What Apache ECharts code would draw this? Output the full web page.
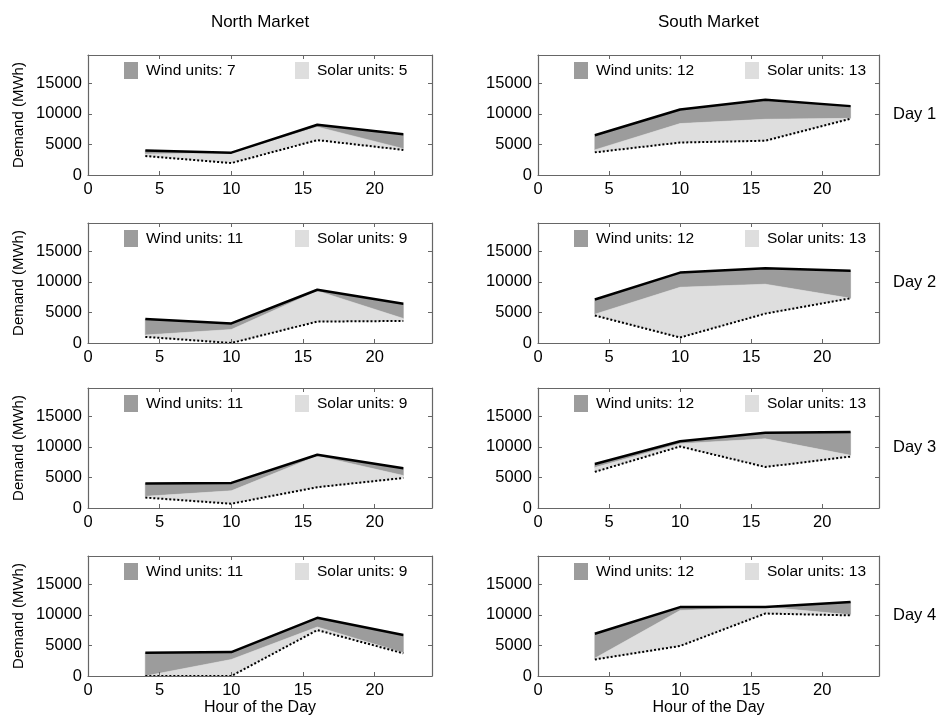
<!DOCTYPE html>
<html>
<head>
<meta charset="utf-8">
<title>Demand and renewable output by market</title>
<script src="https://cdn.jsdelivr.net/npm/echarts@6/dist/echarts.min.js"></script>
<style>
  html, body { margin: 0; padding: 0; background: #fff; }
  #chart { width: 941px; height: 720px; }
</style>
</head>
<body>
<div id="chart"></div>
<script>
// Hours at which demand is sampled
const hours = [4, 10, 16, 22];
const xTicks = [0, 5, 10, 15, 20];
const yTicks = [0, 5000, 10000, 15000];

const marketNames = ['North Market', 'South Market'];
const dayNames = ['Day 1', 'Day 2', 'Day 3', 'Day 4'];

// Installed units per market, one entry per day
const northWindUnits = [7, 11, 11, 11];
const northSolarUnits = [5, 9, 9, 9];
const southWindUnits = [12, 12, 12, 12];
const southSolarUnits = [13, 13, 13, 13];

// Demand (MWh): total, after wind, after wind and solar (net)
const northDay1Total = [4000, 3650, 8200, 6650];
const northDay1AfterWind = [3450, 3550, 7850, 4300];
const northDay1Net = [3100, 1950, 5700, 4100];

const northDay2Total = [3900, 3200, 8700, 6400];
const northDay2AfterWind = [1300, 2200, 8500, 4000];
const northDay2Net = [1000, 0, 3500, 3600];

const northDay3Total = [4000, 4100, 8700, 6500];
const northDay3AfterWind = [1900, 2800, 8500, 5300];
const northDay3Net = [1700, 700, 3400, 4900];

const northDay4Total = [3800, 3900, 9500, 6700];
const northDay4AfterWind = [0, 2700, 8000, 3800];
const northDay4Net = [0, 0, 7500, 3700];

const southDay1Total = [6500, 10700, 12300, 11250];
const southDay1AfterWind = [4100, 8400, 9100, 9250];
const southDay1Net = [3700, 5300, 5600, 9200];

const southDay2Total = [7100, 11500, 12200, 11800];
const southDay2AfterWind = [4700, 9100, 9600, 7300];
const southDay2Net = [4500, 900, 4800, 7300];

const southDay3Total = [7200, 10900, 12300, 12400];
const southDay3AfterWind = [6600, 10500, 11300, 8600];
const southDay3Net = [5900, 10050, 6700, 8400];

const southDay4Total = [6900, 11250, 11250, 12100];
const southDay4AfterWind = [2900, 10700, 11250, 10000];
const southDay4Net = [2700, 4900, 10200, 9900];

const panels = [
  [
    { total: northDay1Total, afterWind: northDay1AfterWind, net: northDay1Net, wind: northWindUnits[0], solar: northSolarUnits[0] },
    { total: southDay1Total, afterWind: southDay1AfterWind, net: southDay1Net, wind: southWindUnits[0], solar: southSolarUnits[0] }
  ],
  [
    { total: northDay2Total, afterWind: northDay2AfterWind, net: northDay2Net, wind: northWindUnits[1], solar: northSolarUnits[1] },
    { total: southDay2Total, afterWind: southDay2AfterWind, net: southDay2Net, wind: southWindUnits[1], solar: southSolarUnits[1] }
  ],
  [
    { total: northDay3Total, afterWind: northDay3AfterWind, net: northDay3Net, wind: northWindUnits[2], solar: northSolarUnits[2] },
    { total: southDay3Total, afterWind: southDay3AfterWind, net: southDay3Net, wind: southWindUnits[2], solar: southSolarUnits[2] }
  ],
  [
    { total: northDay4Total, afterWind: northDay4AfterWind, net: northDay4Net, wind: northWindUnits[3], solar: northSolarUnits[3] },
    { total: southDay4Total, afterWind: southDay4AfterWind, net: southDay4Net, wind: southWindUnits[3], solar: southSolarUnits[3] }
  ]
];

// Layout
const FONT = '"Liberation Sans", Arial, Helvetica, sans-serif';
const WIND_GRAY = '#9c9c9c';
const SOLAR_GRAY = '#dedede';
const BOX = '#666666';
const colLeft = [88, 538];
const colWidth = [344, 341];
const rowTop = [55, 223, 388, 556];
const panelHeight = 120;
const X_MAX = 24;
const Y_MAX = 19600;

const grids = [], xAxes = [], yAxes = [], series = [], legends = [], graphics = [];

function pairs(values) {
  return hours.map((h, i) => [h, values[i]]);
}

// One data row per band: all hours, then the upper curve, then the lower curve
function bandRow(upper, lower) {
  return hours.concat(upper, lower);
}

// Filled polygon between the upper and lower curves, placed through the axes
function renderBand(params, api) {
  const n = hours.length;
  const pts = [];
  for (let k = 0; k < n; k++) pts.push(api.coord([api.value(k), api.value(n + k)]));
  for (let k = n - 1; k >= 0; k--) pts.push(api.coord([api.value(k), api.value(2 * n + k)]));
  const color = api.visual('color');
  return {
    type: 'polygon',
    shape: { points: pts },
    style: { fill: color, stroke: color, lineWidth: 0.6 }
  };
}

let g = 0;
for (let r = 0; r < 4; r++) {
  for (let c = 0; c < 2; c++) {
    const p = panels[r][c];
    const left = colLeft[c], top = rowTop[r], width = colWidth[c];
    grids.push({ left: left, top: top, width: width, height: panelHeight, show: false });

    const tickStyle = { show: true, inside: true, length: 4, lineStyle: { color: BOX, width: 1 } };
    const lineStyle = { show: true, onZero: false, lineStyle: { color: BOX, width: 1.2 } };

    // bottom x axis with labels
    xAxes.push({
      type: 'value', gridIndex: g, position: 'bottom', min: 0, max: X_MAX, interval: 5, z: 10,
      axisLine: lineStyle, axisTick: tickStyle, splitLine: { show: false },
      axisLabel: {
        color: '#000', fontSize: 16.5, fontFamily: FONT, margin: 6, showMaxLabel: false,
        formatter: v => (xTicks.indexOf(v) >= 0 ? String(v) : '')
      },
      name: r === 3 ? 'Hour of the Day' : '', nameLocation: 'middle', nameGap: 24,
      nameTextStyle: { color: '#000', fontSize: 16, fontFamily: FONT }
    });
    // top x axis, ticks only
    xAxes.push({
      type: 'value', gridIndex: g, position: 'top', min: 0, max: X_MAX, interval: 5, z: 10,
      axisLine: lineStyle, axisTick: tickStyle, splitLine: { show: false },
      axisLabel: { show: false }
    });
    // left y axis with labels
    yAxes.push({
      type: 'value', gridIndex: g, position: 'left', min: 0, max: Y_MAX, interval: 5000, z: 10,
      axisLine: lineStyle, axisTick: tickStyle, splitLine: { show: false },
      axisLabel: {
        color: '#000', fontSize: 16.5, fontFamily: FONT, margin: 6, showMaxLabel: false,
        formatter: v => (yTicks.indexOf(v) >= 0 ? String(v) : '')
      },
      name: c === 0 ? 'Demand (MWh)' : '', nameLocation: 'middle', nameGap: 62,
      nameTextStyle: { color: '#000', fontSize: 15, fontFamily: FONT }
    });
    // right y axis, ticks only
    yAxes.push({
      type: 'value', gridIndex: g, position: 'right', min: 0, max: Y_MAX, interval: 5000, z: 10,
      axisLine: lineStyle, axisTick: tickStyle, splitLine: { show: false },
      axisLabel: { show: false }
    });

    const xi = 2 * g, yi = 2 * g;
    const windName = 'Wind units: ' + p.wind;
    const solarName = 'Solar units: ' + p.solar;

    // wind band: total demand down to demand after wind
    series.push({
      type: 'custom', name: windName, xAxisIndex: xi, yAxisIndex: yi,
      renderItem: renderBand, data: [bandRow(p.total, p.afterWind)],
      itemStyle: { color: WIND_GRAY }, z: 1, silent: true, clip: true
    });
    // solar band: demand after wind down to net demand
    series.push({
      type: 'custom', name: solarName, xAxisIndex: xi, yAxisIndex: yi,
      renderItem: renderBand, data: [bandRow(p.afterWind, p.net)],
      itemStyle: { color: SOLAR_GRAY }, z: 2, silent: true, clip: true
    });
    // net demand (dotted)
    series.push({
      type: 'line', name: 'Net demand ' + g, xAxisIndex: xi, yAxisIndex: yi,
      data: pairs(p.net), symbol: 'none', z: 4, silent: true,
      lineStyle: { color: '#000', width: 2, type: [2, 2] }
    });
    // total demand
    series.push({
      type: 'line', name: 'Total demand ' + g, xAxisIndex: xi, yAxisIndex: yi,
      data: pairs(p.total), symbol: 'none', z: 5, silent: true,
      lineStyle: { color: '#000', width: 2.5 }
    });

    const legendCommon = {
      top: top + 7, orient: 'horizontal', selectedMode: false, padding: 0,
      itemWidth: 14, itemHeight: 17, itemGap: 0,
      textStyle: { color: '#000', fontSize: 15.5, fontFamily: FONT, padding: [0, 0, 0, 3] }
    };
    legends.push(Object.assign({}, legendCommon, {
      left: left + 36,
      data: [{ name: windName, icon: 'rect', itemStyle: { color: WIND_GRAY, borderWidth: 0 } }]
    }));
    legends.push(Object.assign({}, legendCommon, {
      left: left + 207,
      data: [{ name: solarName, icon: 'rect', itemStyle: { color: SOLAR_GRAY, borderWidth: 0 } }]
    }));
    g++;
  }
}

// Column headings and row labels
for (let c = 0; c < 2; c++) {
  graphics.push({
    type: 'text', x: colLeft[c] + colWidth[c] / 2, y: 22,
    style: { text: marketNames[c], fill: '#000', font: '17px ' + FONT, textAlign: 'center', textVerticalAlign: 'middle' }
  });
}
for (let r = 0; r < 4; r++) {
  graphics.push({
    type: 'text', x: 893, y: rowTop[r] + panelHeight / 2 - 1,
    style: { text: dayNames[r], fill: '#000', font: '16.5px ' + FONT, textAlign: 'left', textVerticalAlign: 'middle' }
  });
}

const chart = echarts.init(document.getElementById('chart'), null, { renderer: 'canvas' });
chart.setOption({
  animation: false,
  backgroundColor: '#fff',
  grid: grids,
  xAxis: xAxes,
  yAxis: yAxes,
  legend: legends,
  series: series,
  graphic: graphics
});
</script>
</body>
</html>
